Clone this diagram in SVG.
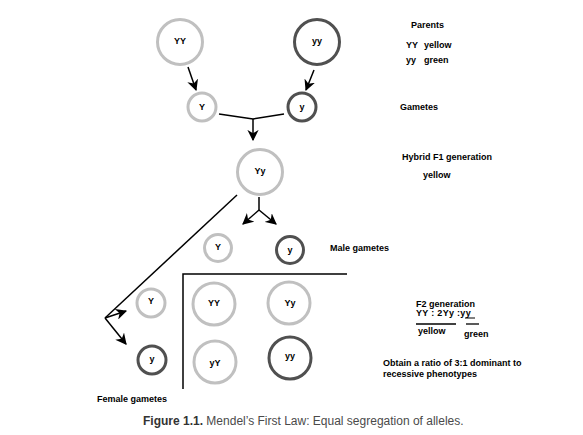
<svg xmlns="http://www.w3.org/2000/svg" width="583" height="435" viewBox="0 0 583 435">
<style>
.lt{fill:#fff;stroke:#c0c0c0;stroke-width:3}
.dk{fill:#fff;stroke:#505050;stroke-width:3}
.lbl{font-family:"Liberation Sans",Arial,sans-serif;font-size:9px;font-weight:bold;fill:#000}
.ln{stroke:#000;stroke-width:1.5;fill:none}
.cap{font-family:"Liberation Sans",Arial,sans-serif;font-size:12px;fill:#4a4a4a}
</style>
<defs>
<marker id="ah" viewBox="0 0 10 10" refX="9" refY="5" markerWidth="7.5" markerHeight="7.5" orient="auto" markerUnits="strokeWidth">
<path d="M0,0 L10,5 L0,10 L3,5 z" fill="#000"/>
</marker>
</defs>
<rect width="583" height="435" fill="#fff"/>
<g id="connectors">
<line class="ln" x1="188" y1="67" x2="196" y2="90" marker-end="url(#ah)"/>
<line class="ln" x1="314" y1="70" x2="306" y2="90" marker-end="url(#ah)"/>
<polyline class="ln" points="219,114 253,119 284,114"/>
<line class="ln" x1="253" y1="119" x2="253" y2="140" marker-end="url(#ah)"/>
<line class="ln" x1="259" y1="197" x2="259" y2="210"/>
<line class="ln" x1="259" y1="210" x2="243" y2="224" marker-end="url(#ah)"/>
<line class="ln" x1="259" y1="210" x2="276" y2="224" marker-end="url(#ah)"/>
<polyline class="ln" points="237,195 105,318"/>
<line class="ln" x1="105" y1="318" x2="126" y2="311" marker-end="url(#ah)"/>
<line class="ln" x1="105" y1="318" x2="126" y2="344" marker-end="url(#ah)"/>
<polyline class="ln" points="347,274 183,274 183,389"/>
</g>
<g id="parent-YY"><circle class="lt" cx="180" cy="42" r="22.5"/><text class="lbl" x="180" y="44" text-anchor="middle">YY</text></g>
<g id="parent-yy"><circle class="dk" cx="317" cy="42" r="22.5"/><text class="lbl" x="317" y="44" text-anchor="middle">yy</text></g>
<g id="gamete-Y"><circle class="lt" cx="202" cy="107" r="14"/><text class="lbl" x="202" y="110" text-anchor="middle">Y</text></g>
<g id="gamete-y"><circle class="dk" cx="302" cy="107" r="14"/><text class="lbl" x="302" y="110" text-anchor="middle">y</text></g>
<g id="f1-Yy"><circle class="lt" cx="260" cy="172" r="22.5"/><text class="lbl" x="260" y="174" text-anchor="middle">Yy</text></g>
<g id="male-Y"><circle class="lt" cx="218" cy="248" r="13.5"/><text class="lbl" x="218" y="250" text-anchor="middle">Y</text></g>
<g id="male-y"><circle class="dk" cx="290" cy="250" r="13.5"/><text class="lbl" x="290" y="253" text-anchor="middle">y</text></g>
<g id="female-Y"><circle class="lt" cx="151" cy="303" r="14"/><text class="lbl" x="151" y="304" text-anchor="middle">Y</text></g>
<g id="female-y"><circle class="dk" cx="152" cy="360" r="14"/><text class="lbl" x="152" y="362" text-anchor="middle">y</text></g>
<g id="f2-YY"><circle class="lt" cx="214" cy="304" r="21"/><text class="lbl" x="214" y="306" text-anchor="middle">YY</text></g>
<g id="f2-Yy"><circle class="lt" cx="289" cy="303" r="21"/><text class="lbl" x="290" y="306" text-anchor="middle">Yy</text></g>
<g id="f2-yY"><circle class="lt" cx="215" cy="362" r="21"/><text class="lbl" x="215" y="366" text-anchor="middle">yY</text></g>
<g id="f2-yy"><circle class="dk" cx="290" cy="358" r="21"/><text class="lbl" x="290" y="359" text-anchor="middle">yy</text></g>
<g id="labels">
<text class="lbl" x="411" y="28">Parents</text>
<text class="lbl" x="406" y="48">YY</text><text class="lbl" x="424" y="48">yellow</text>
<text class="lbl" x="406" y="63">yy</text><text class="lbl" x="424" y="63">green</text>
<text class="lbl" x="400" y="110">Gametes</text>
<text class="lbl" x="402" y="160">Hybrid F1 generation</text>
<text class="lbl" x="423" y="178">yellow</text>
<text class="lbl" x="330" y="251">Male gametes</text>
<text class="lbl" x="416" y="307">F2 generation</text>
<text class="lbl" x="416" y="316" letter-spacing="0.3">YY : 2Yy :yy</text>
<line x1="465" y1="318" x2="475" y2="318" stroke="#000" stroke-width="1"/>
<line x1="416" y1="324" x2="456" y2="324" stroke="#000" stroke-width="1.3"/>
<line x1="466" y1="324" x2="479" y2="324" stroke="#000" stroke-width="1.3"/>
<text class="lbl" x="418" y="334">yellow</text>
<text class="lbl" x="464" y="337">green</text>
<text class="lbl" x="383" y="366">Obtain a ratio of 3:1 dominant to</text>
<text class="lbl" x="383" y="377">recessive phenotypes</text>
<text class="lbl" x="97" y="402">Female gametes</text>
<text class="cap" x="143" y="425"><tspan font-weight="bold" fill="#333">Figure 1.1.</tspan> Mendel’s First Law: Equal segregation of alleles.</text>
</g>
</svg>
